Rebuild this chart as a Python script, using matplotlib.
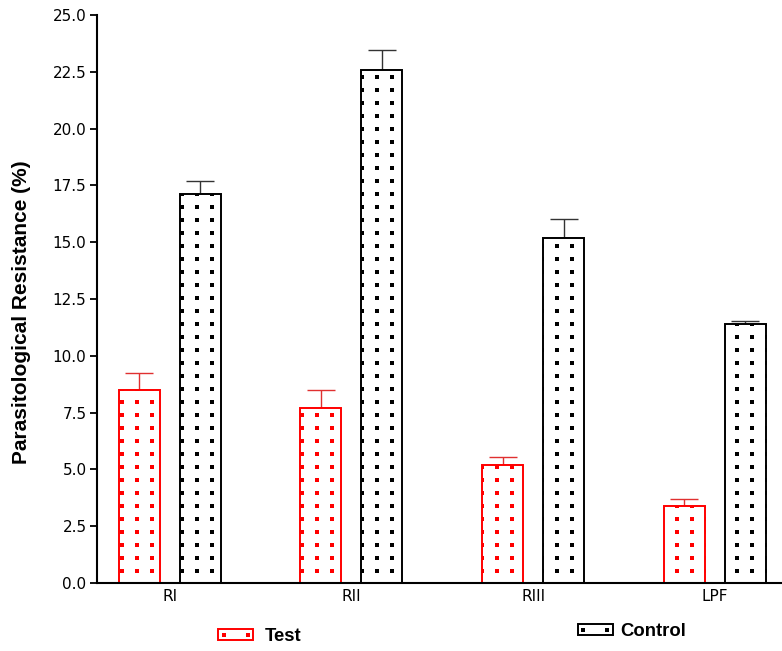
import matplotlib
matplotlib.use("Agg")
import matplotlib.pyplot as plt
from matplotlib.patches import Rectangle
from matplotlib.lines import Line2D
from matplotlib.legend_handler import HandlerTuple
import numpy as np

categories = ["RI", "RII", "RIII", "LPF"]
test_vals = [8.5, 7.7, 5.2, 3.4]
test_err = [0.75, 0.8, 0.35, 0.3]
control_vals = [17.1, 22.6, 15.2, 11.4]
control_err = [0.6, 0.85, 0.8, 0.13]
yticks = [0.0, 2.5, 5.0, 7.5, 10.0, 12.5, 15.0, 17.5, 20.0, 22.5, 25.0]

plt.rcParams['font.family'] = ['Liberation Sans', 'DejaVu Sans']

W, H, DPI = 7.82, 6.51, 100
fig = plt.figure(figsize=(W, H), dpi=DPI)
ax = fig.add_axes([0.124, 0.1045, 0.876, 0.8725])

x = np.arange(len(categories))
w = 0.225
off = 0.168

bt = ax.bar(x - off, test_vals, w, facecolor='white', edgecolor='red', linewidth=1.4, zorder=2,
            yerr=[np.zeros(len(test_err)), test_err],
            error_kw=dict(ecolor='#e03030', elinewidth=1, capsize=10, capthick=1, zorder=1))
bc = ax.bar(x + off, control_vals, w, facecolor='white', edgecolor='black', linewidth=1.4, zorder=2,
            yerr=[np.zeros(len(control_err)), control_err],
            error_kw=dict(ecolor='#333333', elinewidth=1, capsize=10, capthick=1, zorder=1))

ax.set_xlim(-0.4, 3.37)
ax.set_ylim(0, 25)

# dotted fill pattern: a regular grid of small square dots (pixel spacing), clipped to each bar
fig.canvas.draw()
inv = ax.transData.inverted()
x0_px, x_step_px = 121.7, 15.0          # image pixels from left
y0_px, y_step_px = 651 - 570.7, 13.0    # image pixels from bottom
gx_px = np.arange(x0_px, W * DPI, x_step_px)
gy_px = np.arange(y0_px, H * DPI, y_step_px)
GX, GY = np.meshgrid(gx_px, gy_px)
pts = inv.transform(np.column_stack([GX.ravel(), GY.ravel()]))
for bars, col in ((bt, 'red'), (bc, 'black')):
    for rect in bars:
        sc = ax.scatter(pts[:, 0], pts[:, 1], s=5.5, marker='s', color=col, linewidths=0,
                        zorder=2.5, antialiased=False)
        sc.set_clip_path(rect)

ax.set_yticks(yticks)
ax.set_yticklabels([f"{v:.1f}" for v in yticks], fontsize=11, family='DejaVu Sans')
ax.set_xticks(x)
ax.set_xticklabels(categories, fontsize=11, family='DejaVu Sans')
ax.tick_params(axis='x', length=0, pad=4)
ax.tick_params(axis='y', direction='out', length=5, width=1.3, pad=2.5)
for s in ['top', 'right']:
    ax.spines[s].set_visible(False)
for s in ['left', 'bottom']:
    ax.spines[s].set_linewidth(1.5)
    ax.spines[s].set_zorder(3)
ax.set_ylabel("Parasitological Resistance (%)", fontsize=15, fontweight='bold')
ax.yaxis.set_label_coords(-0.0964, 0.477)

def handle(col):
    r = Rectangle((0, 0), 1, 1, facecolor='white', edgecolor=col, linewidth=1.4)
    d = Line2D([], [], linestyle='none', marker='s', markersize=2.4, color=col,
               markeredgewidth=0, antialiased=False)
    return (r, d)

leg_kw = dict(frameon=False, prop=dict(weight='bold', size=13.3), handlelength=1.9, handleheight=0.6,
              borderaxespad=0, borderpad=0, numpoints=2, markerscale=1,
              handler_map={tuple: HandlerTuple(ndivide=1, pad=0)})
fig.legend(handles=[handle('red')], labels=['Test'], loc='center left',
           bbox_to_anchor=(0.2788, 0.0223), handletextpad=0.65, **leg_kw)
fig.legend(handles=[handle('black')], labels=['Control'], loc='center left',
           bbox_to_anchor=(0.739, 0.030), handletextpad=0.4, **leg_kw)

fig.savefig("out.png", dpi=DPI)
